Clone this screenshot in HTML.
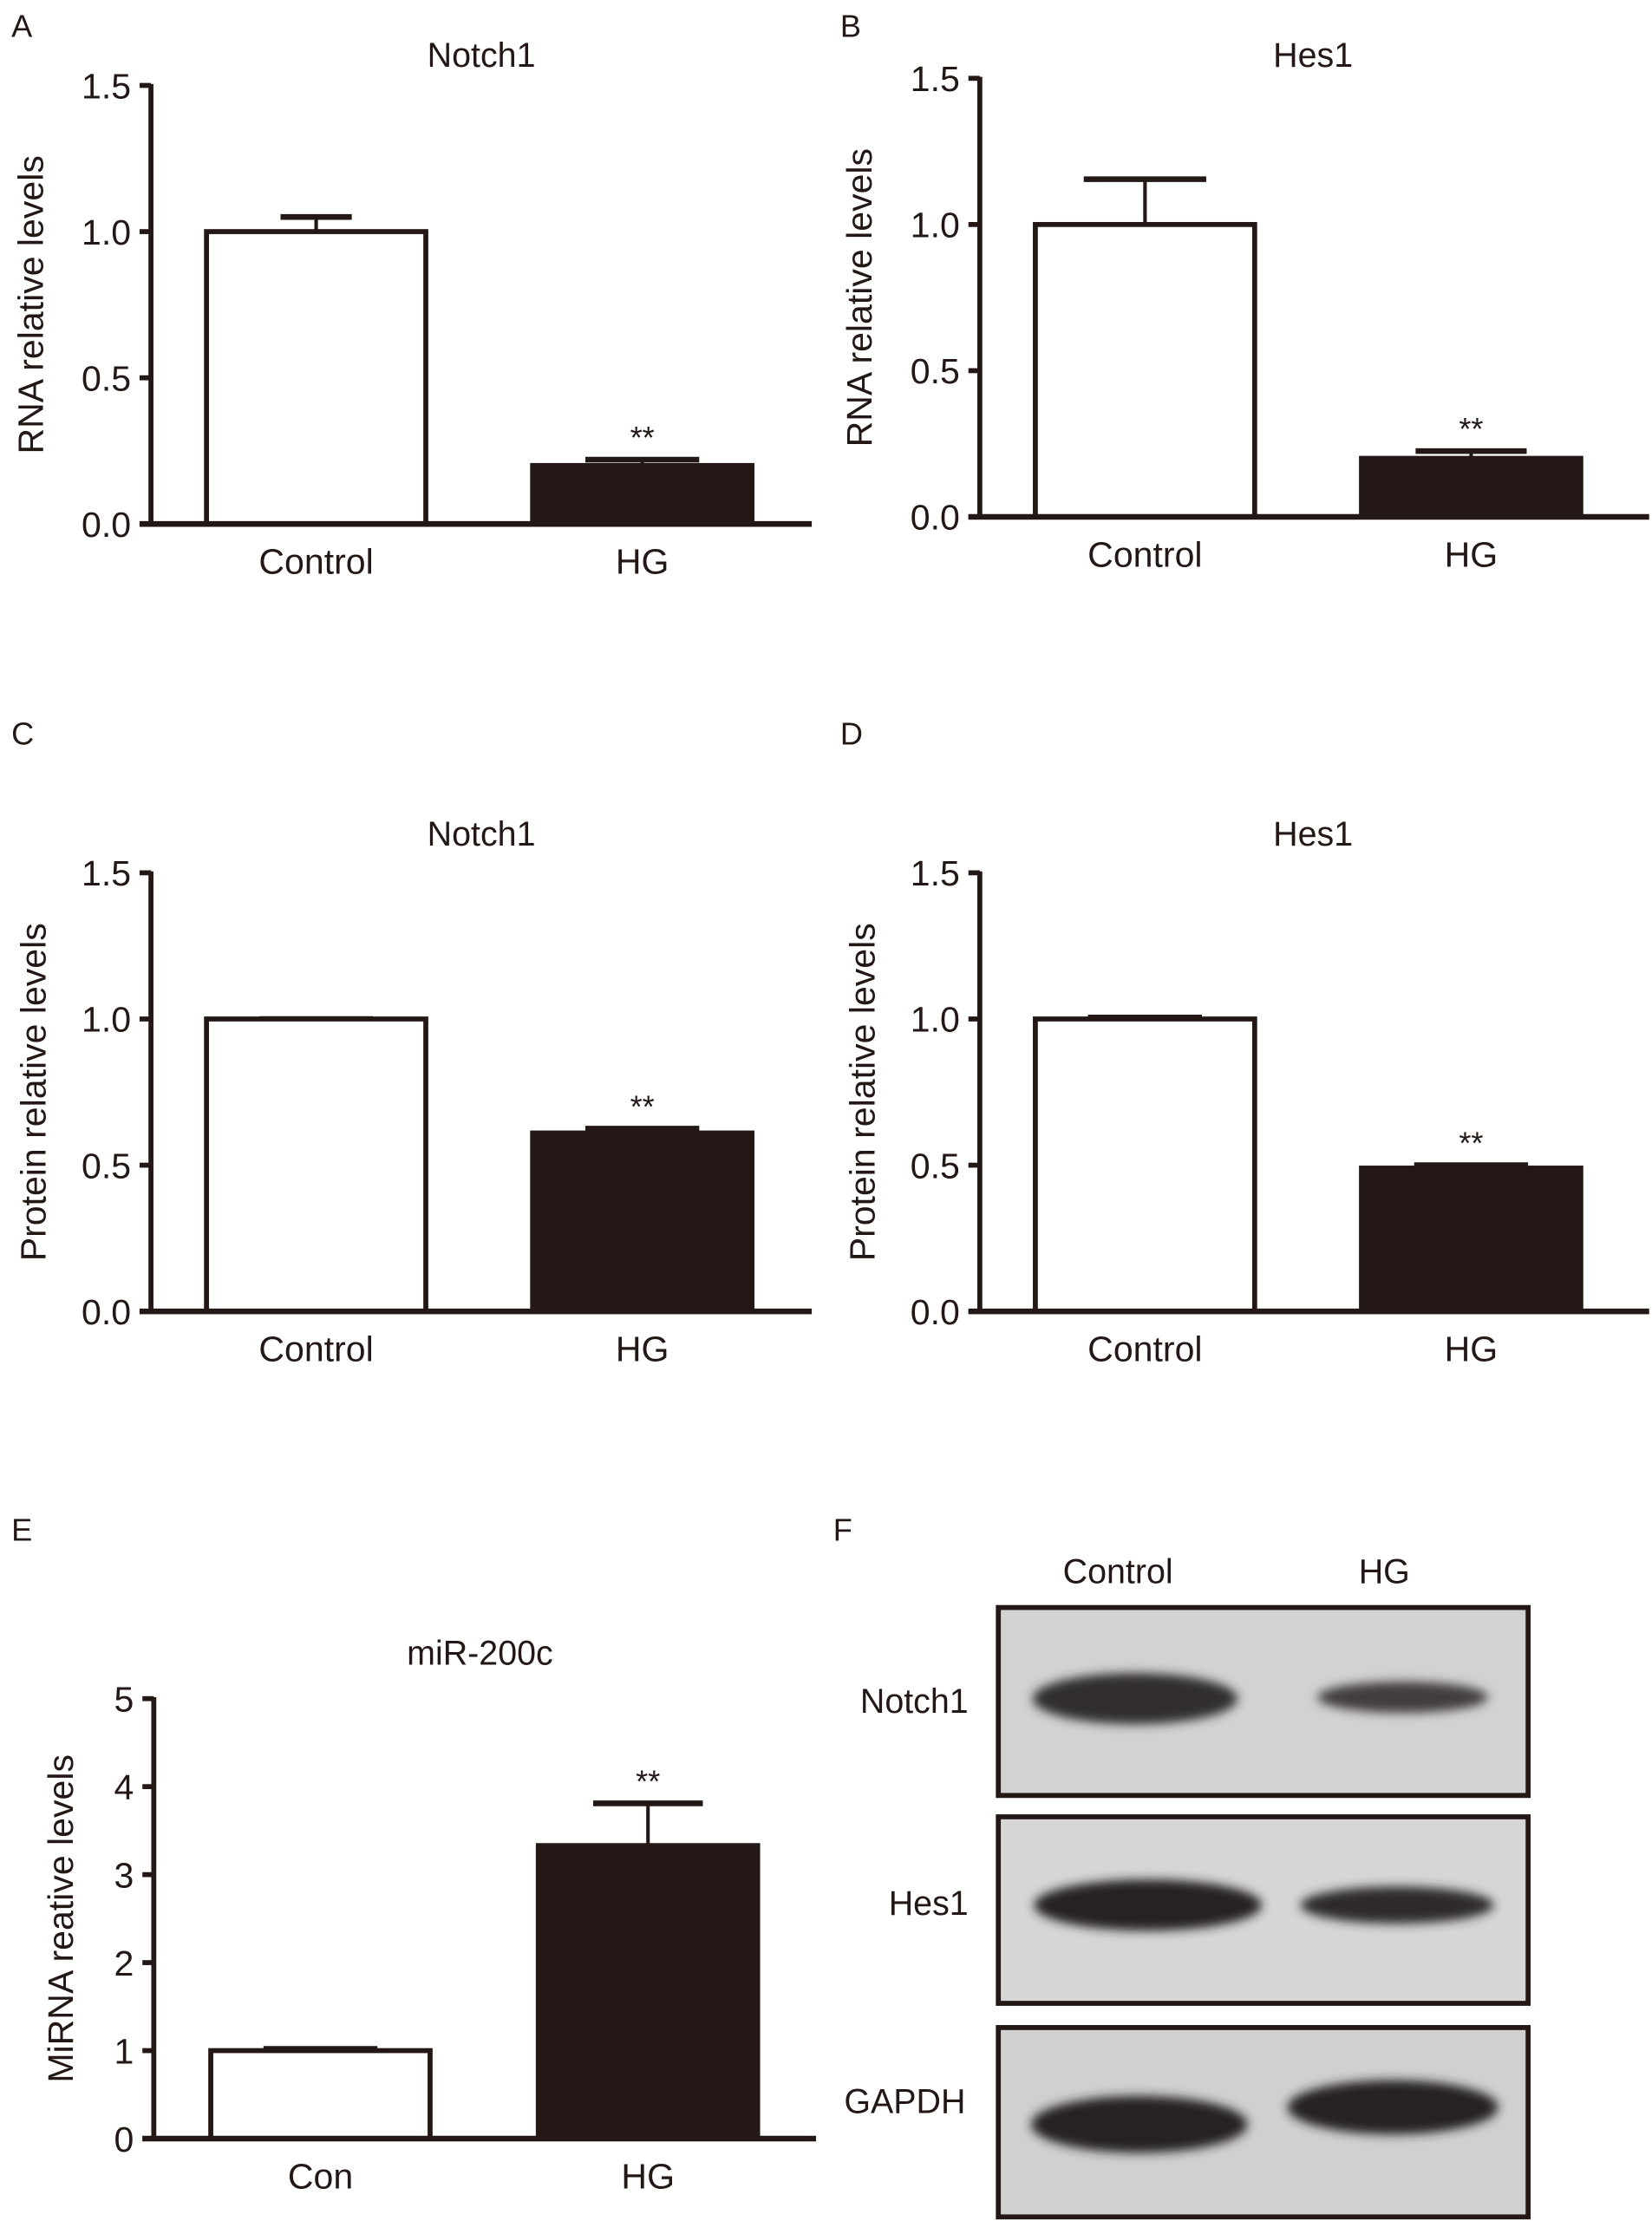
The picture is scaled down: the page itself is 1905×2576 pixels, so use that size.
<!DOCTYPE html>
<html><head><meta charset="utf-8">
<style>
html,body{margin:0;padding:0;background:#fff;}
svg{display:block;}
text{font-family:"Liberation Sans",sans-serif;fill:#231815;}
</style></head>
<body>
<svg id="fig" width="1905" height="2576" viewBox="0 0 1160 1569" preserveAspectRatio="none" xmlns="http://www.w3.org/2000/svg">
<defs>
<filter id="blur" x="-20%" y="-50%" width="140%" height="200%"><feGaussianBlur stdDeviation="3.5"/></filter>
</defs>
<g id="charts"></g>
<g id="blot">
<text x="585" y="1082" font-size="22">F</text>
<text x="785" y="1112" font-size="24" text-anchor="middle">Control</text>
<text x="972" y="1112" font-size="24" text-anchor="middle">HG</text>

<rect x="701" y="1129" width="372" height="132" fill="#d2d2d2" stroke="#231815" stroke-width="3.5"/>
<ellipse cx="797" cy="1193" rx="72" ry="18" fill="#332e2e" filter="url(#blur)"/>
<ellipse cx="985" cy="1192" rx="60" ry="11" fill="#423c3c" filter="url(#blur)"/>
<text x="680" y="1203" font-size="24" text-anchor="end">Notch1</text>

<rect x="701" y="1276" width="372" height="131" fill="#d6d6d6" stroke="#231815" stroke-width="3.5"/>
<ellipse cx="806" cy="1338" rx="80" ry="18" fill="#282424" filter="url(#blur)"/>
<ellipse cx="981" cy="1338" rx="68" ry="13" fill="#2e2a2a" filter="url(#blur)"/>
<text x="680" y="1345" font-size="24" text-anchor="end">Hes1</text>

<rect x="701" y="1424" width="372" height="133" fill="#d0d0d0" stroke="#231815" stroke-width="3.5"/>
<ellipse cx="800" cy="1492" rx="76" ry="20" fill="#282424" filter="url(#blur)"/>
<ellipse cx="978" cy="1480" rx="74" ry="19" fill="#282424" filter="url(#blur)"/>
<text x="678" y="1484" font-size="24" text-anchor="end">GAPDH</text>
</g>
</svg>
<script>
// Panel data
const categoriesA = ["Control", "HG"];
const valuesA = [1.0, 0.2];
const errorsA = [0.05, 0.02];
const ticksA = [0, 0.5, 1.0, 1.5];

const categoriesB = ["Control", "HG"];
const valuesB = [1.0, 0.2];
const errorsB = [0.155, 0.025];
const ticksB = [0, 0.5, 1.0, 1.5];

const categoriesC = ["Control", "HG"];
const valuesC = [1.0, 0.61];
const errorsC = [0.0, 0.015];
const ticksC = [0, 0.5, 1.0, 1.5];

const categoriesD = ["Control", "HG"];
const valuesD = [1.0, 0.49];
const errorsD = [0.005, 0.01];
const ticksD = [0, 0.5, 1.0, 1.5];

const categoriesE = ["Con", "HG"];
const valuesE = [1.0, 3.33];
const errorsE = [0.02, 0.48];
const ticksE = [0, 1, 2, 3, 4, 5];

const NS = "http://www.w3.org/2000/svg";
const root = document.getElementById("charts");
function mk(tag, attrs, parent) {
  const e = document.createElementNS(NS, tag);
  for (const k in attrs) e.setAttribute(k, attrs[k]);
  parent.appendChild(e);
  return e;
}

function drawPanel(cfg) {
  const g = mk("g", {}, root);
  
  
  const ymax = cfg.ticks[cfg.ticks.length - 1];
  const y = v => cfg.y0 - (v / ymax) * (cfg.y0 - cfg.yTop);
  const col = "#231815";
  const L = mk("text", {x: cfg.ox + 8, y: cfg.letterY, "font-size": 22}, g);
  L.textContent = cfg.letter;
  
  
  const T = mk("text", {x: cfg.ox + cfg.titleX, y: cfg.titleY, "font-size": 24, "text-anchor": "middle"}, g);
  T.textContent = cfg.title;
  
  
  const yt = mk("text", {x: 0, y: 0, "font-size": 25, "text-anchor": "middle",
    transform: `translate(${cfg.ox + cfg.ytX},${(cfg.y0 + cfg.yTop) / 2}) rotate(-90)`}, g);
  yt.textContent = cfg.ytitle;
  
  
  cfg.cats.forEach((c, i) => {
    const x0 = cfg.ox + cfg.barX[i], w = cfg.barW;
    const top = y(cfg.vals[i]);
    const cx = x0 + w / 2;
    const et = y(cfg.vals[i] + cfg.errs[i]);
    if (cfg.errs[i] > 0) {
      const eb = mk("line", {x1: cx, x2: cx, y1: top, y2: et, stroke: col, "stroke-width": 2.5}, g);
      
      
    }
    const cap = mk("line", {x1: cx - cfg.capW[i] / 2, x2: cx + cfg.capW[i] / 2, y1: et, y2: et, stroke: col, "stroke-width": 4}, g);
    
    
    const r = mk("rect", {x: x0, y: top, width: w, height: cfg.y0 - top,
      fill: i === 0 ? "#fff" : col, stroke: col, "stroke-width": 3.5}, g);
    
    
    const lb = mk("text", {x: cx, y: cfg.y0 + 35, "font-size": 25, "text-anchor": "middle"}, g);
    lb.textContent = c;
    
    
    if (i === 1) {
      const s = mk("text", {x: cx, y: et - 8, "font-size": 22, "text-anchor": "middle"}, g);
      s.textContent = "**";
      
      
    }
  });
  const ya = mk("line", {x1: cfg.ox + cfg.axX, x2: cfg.ox + cfg.axX, y1: cfg.yTop - 1, y2: cfg.y0, stroke: col, "stroke-width": 3.5}, g);
  
  
  const xa = mk("line", {x1: cfg.ox + cfg.axX - 8, x2: cfg.ox + cfg.xEnd, y1: cfg.y0, y2: cfg.y0, stroke: col, "stroke-width": 4}, g);
  
  
  cfg.ticks.forEach(t => {
    const tk = mk("line", {x1: cfg.ox + cfg.axX - 8, x2: cfg.ox + cfg.axX, y1: y(t), y2: y(t), stroke: col, "stroke-width": 3.5}, g);
    
    
    const tl = mk("text", {x: cfg.ox + cfg.axX - 14, y: y(t) + 9, "font-size": 25, "text-anchor": "end"}, g);
    tl.textContent = cfg.fmt(t);
    
    
  });
}

const f1 = t => t.toFixed(1);
drawPanel({name: "chart-a-notch1-rna", letter: "A", letterY: 26, title: "Notch1", titleX: 338, titleY: 47,
  ytitle: "RNA relative levels", ytX: 30, ox: 0, axX: 106, xEnd: 570, yTop: 60, y0: 368,
  barX: [145, 374], barW: 154, capW: [50, 80], cats: categoriesA, vals: valuesA, errs: errorsA, ticks: ticksA, fmt: f1});
drawPanel({name: "chart-b-hes1-rna", letter: "B", letterY: 26, title: "Hes1", titleX: 340, titleY: 47,
  ytitle: "RNA relative levels", ytX: 30, ox: 582, axX: 106, xEnd: 576, yTop: 55, y0: 363,
  barX: [145, 374], barW: 154, capW: [86, 78], cats: categoriesB, vals: valuesB, errs: errorsB, ticks: ticksB, fmt: f1});
drawPanel({name: "chart-c-notch1-protein", letter: "C", letterY: 523, title: "Notch1", titleX: 338, titleY: 594,
  ytitle: "Protein relative levels", ytX: 32, ox: 0, axX: 106, xEnd: 570, yTop: 613, y0: 921,
  barX: [145, 374], barW: 154, capW: [80, 80], cats: categoriesC, vals: valuesC, errs: errorsC, ticks: ticksC, fmt: f1});
drawPanel({name: "chart-d-hes1-protein", letter: "D", letterY: 523, title: "Hes1", titleX: 340, titleY: 594,
  ytitle: "Protein relative levels", ytX: 32, ox: 582, axX: 106, xEnd: 576, yTop: 613, y0: 921,
  barX: [145, 374], barW: 154, capW: [80, 80], cats: categoriesD, vals: valuesD, errs: errorsD, ticks: ticksD, fmt: f1});
drawPanel({name: "chart-e-mir200c", letter: "E", letterY: 1082, title: "miR-200c", titleX: 337, titleY: 1169,
  ytitle: "MiRNA reative levels", ytX: 51, ox: 0, axX: 108, xEnd: 573, yTop: 1193, y0: 1502,
  barX: [148, 378], barW: 154, capW: [80, 77], cats: categoriesE, vals: valuesE, errs: errorsE, ticks: ticksE, fmt: t => String(t)});
</script>
</body></html>
